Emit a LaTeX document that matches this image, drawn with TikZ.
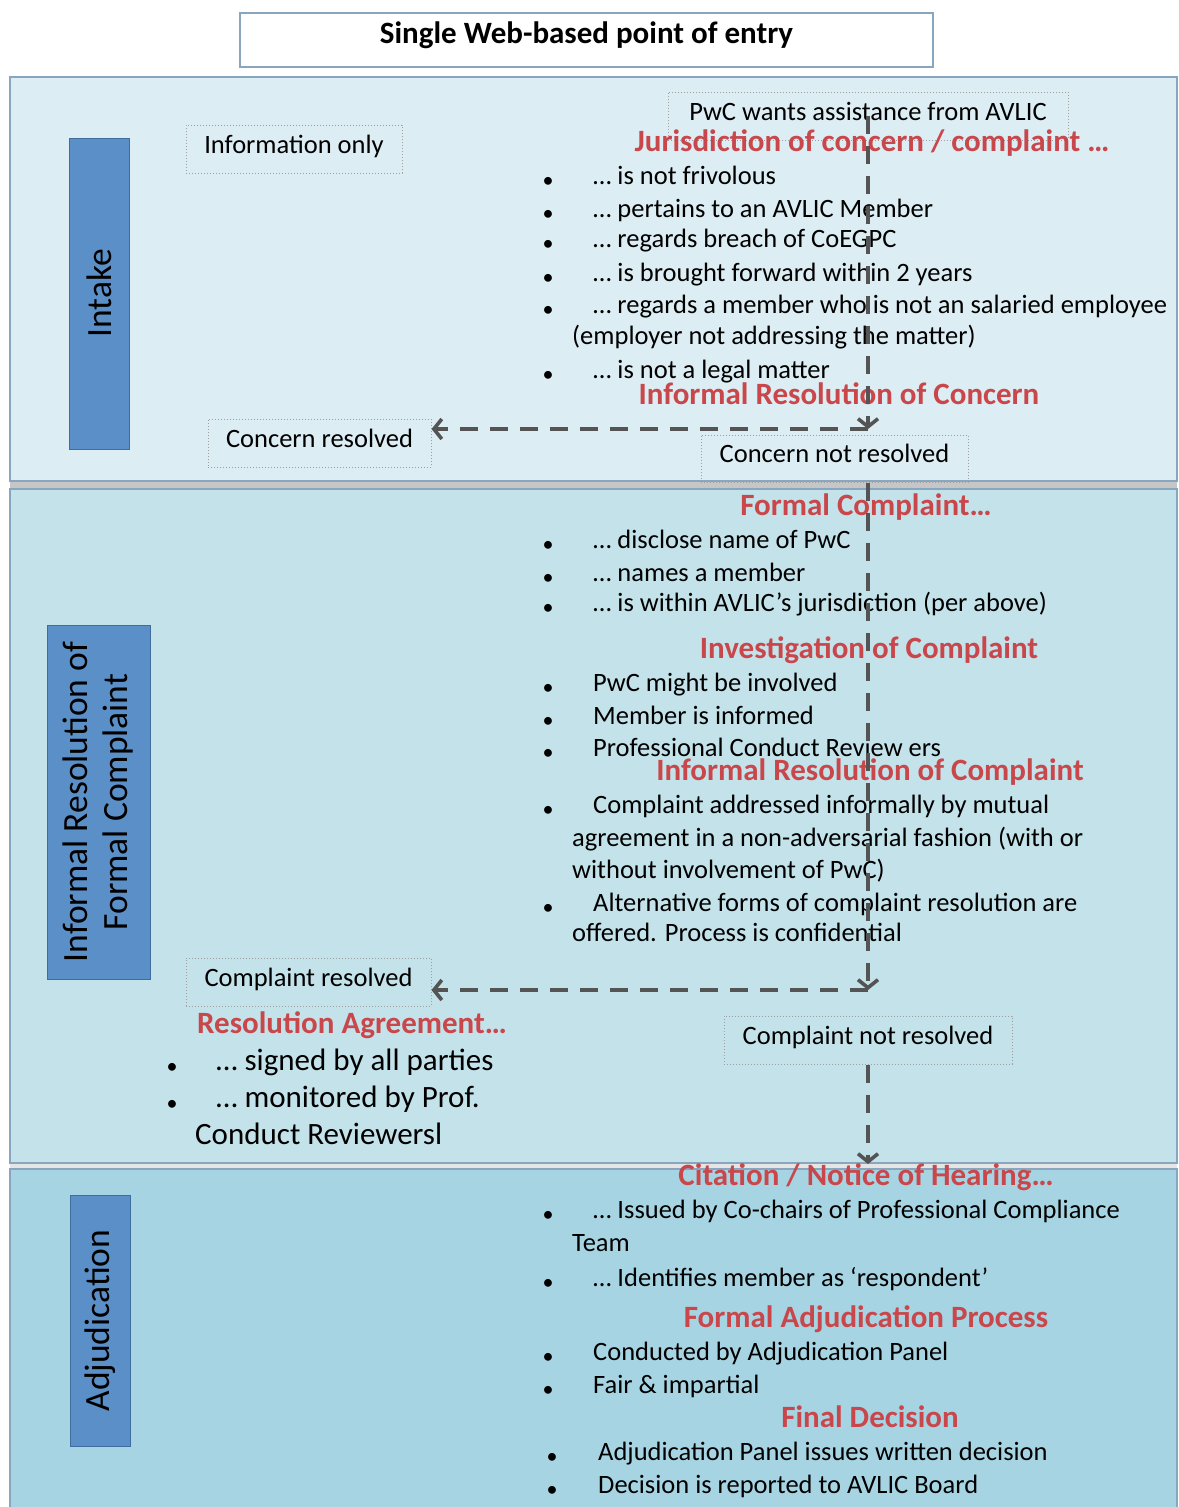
\documentclass[tikz,border=0pt]{standalone}
\usepackage{fontspec}
\setmainfont{Carlito}
\usetikzlibrary{arrows,arrows.meta,calc}
\usetikzlibrary{positioning}
\definecolor{bandA}{HTML}{DCEDF3}
\definecolor{bandB}{HTML}{C3E2EA}
\definecolor{bandC}{HTML}{A6D4E2}
\definecolor{bandline}{HTML}{8AA5BE}
\definecolor{tabfill}{HTML}{5B8FC8}
\definecolor{tabline}{HTML}{3F6E9E}
\definecolor{headred}{HTML}{C9474B}
\definecolor{flowgray}{HTML}{545454}
\tikzstyle{band}=[draw=bandline,line width=1.2pt]
\tikzstyle{tab}=[draw=tabline,fill=tabfill,line width=0.8pt,inner sep=0pt,rotate=90,
                align=center,font=\fontsize{35.5}{40}\selectfont]
\tikzstyle{note}=[draw=gray!75,dotted,line width=1pt,inner sep=0pt,text height=0.8em,
                text depth=0pt,font=\fontsize{26.5}{30}\selectfont]
\tikzstyle{head}=[text=headred,inner sep=0pt,text height=0.5em,text depth=0pt,
                font=\bfseries\fontsize{31}{36}\selectfont]
\tikzstyle{item}=[anchor=west,inner sep=0pt,text height=0.5em,text depth=0pt,
                font=\fontsize{26.5}{30}\selectfont]
\tikzstyle{bigitem}=[item,text height=0.55em,font=\fontsize{31}{36}\selectfont]
\tikzstyle{dot}=[inner sep=0pt,font=\fontsize{22}{26}\selectfont]
\tikzstyle{flow}=[draw=flowgray,line width=3.6pt,dash pattern=on 18pt off 12pt,
                -{Straight Barb[length=8pt,width=20pt]}]

\begin{document}
\begin{tikzpicture}[x=1pt,y=-1pt]

% % % % % % % % % % % % % % %

\useasboundingbox (0,0) rectangle (1178,1507);

% bands
\fill[gray!45] (10,481) rectangle (1177,489);
\fill[gray!20] (10,1162) rectangle (1177,1170);
\draw[band,fill=bandA] (10,77) rectangle (1177,481);
\draw[band,fill=bandB] (10,489) rectangle (1177,1163);
\draw[band,fill=bandC] (10,1169) rectangle (1177,1512);

% title
\node[draw=bandline,fill=white,line width=1.2pt,minimum width=693pt,minimum height=54pt,
      inner sep=0pt,text height=0.77em,text depth=0pt,
      font=\bfseries\fontsize{31}{36}\selectfont] (entry) at (586.5,40) {Single Web-based point of entry};

% stage tabs
\node[tab,minimum width=311pt,minimum height=60pt] (intake) at (99,293.5) {Intake};
\node[tab,minimum width=354pt,minimum height=103pt] (formal) at (98.5,802)
      {Informal Resolution of\\Formal Complaint};
\node[tab,minimum width=251pt,minimum height=60pt] (adjud) at (100,1320.5) {Adjudication};

% dotted boxes
\node[note,minimum width=216pt,minimum height=48pt] (info) at (294,149) {Information only};
\node[note,minimum width=400pt,minimum height=48pt] (pwc) at (868,116) {PwC wants assistance from AVLIC};
\node[note,minimum width=223pt,minimum height=48pt] (concres) at (319.5,443) {Concern resolved};
\node[note,minimum width=267pt,minimum height=47pt] (concnot) at (834.5,458.5) {Concern not resolved};
\node[note,minimum width=245pt,minimum height=48pt] (compres) at (308.5,982) {Complaint resolved};
\node[note,minimum width=288pt,minimum height=48pt] (compnot) at (868,1040) {Complaint not resolved};

% headings
\node[head] (jur) at (872,149) {Jurisdiction of concern / complaint …};
\node[head] (irc) at (839,402) {Informal Resolution of Concern};
\node[head] (fc) at (866,513) {Formal Complaint…};
\node[head] (inv) at (869,656) {Investigation of Complaint};
\node[head] (irp) at (870,778) {Informal Resolution of Complaint};
\node[head] (ra) at (352,1031) {Resolution Agreement…};
\node[head] (cit) at (866,1183) {Citation / Notice of Hearing…};
\node[head] (fap) at (866,1325) {Formal Adjudication Process};
\node[head] (fd) at (870,1425) {Final Decision};

% bullet lists
\foreach \y/\textj/\n in {182/… is not frivolous/j1,
                          215/… pertains to an AVLIC Member/j2,
                          245/… regards breach of CoEGPC/j3,
                          279/… is brought forward within 2 years/j4,
                          311/… regards a member who is not an salaried employee/j5,
                          376/… is not a legal matter/j6,
                          546/… disclose name of PwC/f1,
                          579/… names a member/f2,
                          609/… is within AVLIC’s jurisdiction (per above)/f3,
                          689/PwC might be involved/v1,
                          722/Member is informed/v2,
                          754/Professional Conduct Review ers/v3,
                          811/Complaint addressed informally by mutual/r1,
                          909/Alternative forms of complaint resolution are/r2,
                          1216/… Issued by Co-chairs of Professional Compliance/c1,
                          1284/… Identifies member as ‘respondent’/c2,
                          1358/Conducted by Adjudication Panel/a1,
                          1391/Fair \& impartial/a2} {
\node[dot] (b\n) at (548,\y) {\textbullet};
\node[item] (\n) at (593,\y) {\textj};
}
\foreach \y/\textj/\n in {1458/Adjudication Panel issues written decision/d1,
                          1491/Decision is reported to AVLIC Board/d2} {
\node[dot] (b\n) at (552,\y) {\textbullet};
\node[item] (\n) at (598,\y) {\textj};
}
\foreach \y/\textj/\n in {342/(employer not addressing the matter)/j5b,
                          844/agreement in a non-adversarial fashion (with or/r1b,
                          876/without involvement of PwC)/r1c,
                          939/offered. Process is confidential/r2b,
                          1249/Team/c1b} {
\node[item] (\n) at (572,\y) {\textj};
}
\foreach \y/\textj/\n in {1068/… signed by all parties/s1,
                          1105/… monitored by Prof./s2} {
\node[dot] (b\n) at (172,\y) {\textbullet};
\node[bigitem] (\n) at (216,\y) {\textj};
}
\node[bigitem] (s2b) at (195,1142) {Conduct Reviewersl};

% flow
\coordinate (turn1) at (868,429);
\coordinate (turn2) at (868,990);
\coordinate (adjtop) at (868,1164);
\draw[flow] (pwc.center) -- (turn1);
\draw[flow] (turn1) -- (turn1 -| concres.east);
\draw[flow] (concnot.south -| turn2) -- (turn2);
\draw[flow] (turn2) -- (turn2 -| compres.east);
\draw[flow] (compnot.south) -- (adjtop);

\end{tikzpicture}
\end{document}
